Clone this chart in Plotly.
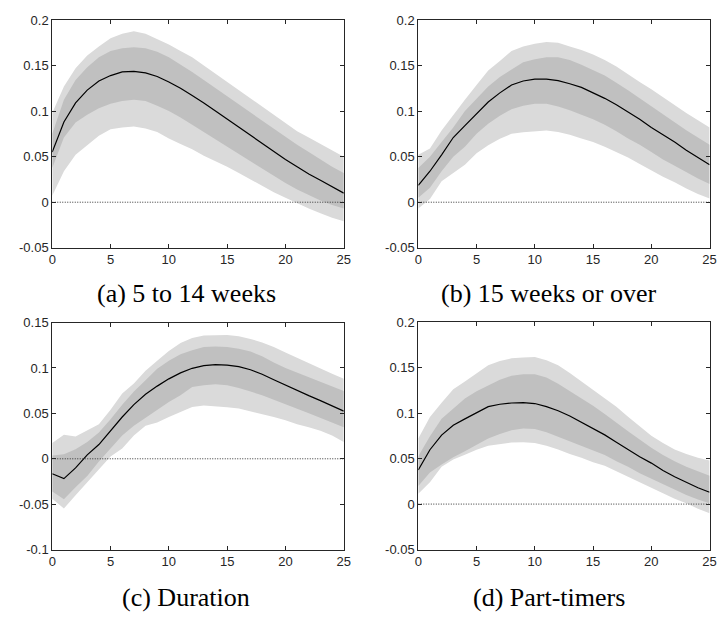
import plotly.graph_objects as go

# ---------------- data ----------------
horizon = list(range(26))

a_med = [0.055, 0.088, 0.109, 0.123, 0.133, 0.139, 0.143, 0.1435, 0.142, 0.138, 0.132, 0.125, 0.117, 0.109, 0.100, 0.091, 0.082, 0.073, 0.064, 0.056, 0.047, 0.039, 0.031, 0.024, 0.017, 0.010]
a_hi68 = [0.075, 0.1125, 0.134, 0.148, 0.159, 0.166, 0.169, 0.170, 0.169, 0.165, 0.159, 0.151, 0.143, 0.134, 0.125, 0.116, 0.107, 0.098, 0.089, 0.080, 0.071, 0.063, 0.055, 0.047, 0.039, 0.032]
a_lo68 = [0.0375, 0.071, 0.0875, 0.096, 0.103, 0.108, 0.111, 0.1125, 0.111, 0.106, 0.100, 0.093, 0.085, 0.077, 0.069, 0.061, 0.053, 0.045, 0.037, 0.029, 0.021, 0.014, 0.008, 0.002, -0.003, -0.007]
a_hi90 = [0.098, 0.127, 0.147, 0.161, 0.171, 0.180, 0.185, 0.1875, 0.185, 0.179, 0.173, 0.166, 0.159, 0.150, 0.141, 0.132, 0.123, 0.114, 0.105, 0.095, 0.086, 0.078, 0.071, 0.064, 0.057, 0.050]
a_lo90 = [0.007, 0.034, 0.052, 0.0625, 0.073, 0.080, 0.082, 0.083, 0.081, 0.077, 0.070, 0.064, 0.058, 0.051, 0.045, 0.039, 0.032, 0.025, 0.018, 0.011, 0.005, -0.001, -0.007, -0.012, -0.017, -0.021]

b_med = [0.0186, 0.034, 0.052, 0.071, 0.084, 0.097, 0.110, 0.120, 0.1286, 0.133, 0.135, 0.135, 0.1335, 0.130, 0.126, 0.120, 0.114, 0.107, 0.099, 0.091, 0.082, 0.074, 0.066, 0.057, 0.049, 0.041]
b_hi68 = [0.0375, 0.050, 0.066, 0.082, 0.100, 0.114, 0.127, 0.1375, 0.146, 0.1536, 0.157, 0.159, 0.159, 0.156, 0.151, 0.145, 0.139, 0.131, 0.123, 0.114, 0.105, 0.096, 0.087, 0.079, 0.071, 0.063]
b_lo68 = [0.005, 0.016, 0.034, 0.050, 0.061, 0.075, 0.086, 0.095, 0.102, 0.106, 0.108, 0.108, 0.105, 0.101, 0.096, 0.091, 0.085, 0.078, 0.070, 0.063, 0.055, 0.047, 0.040, 0.033, 0.026, 0.020]
b_hi90 = [0.052, 0.059, 0.0786, 0.096, 0.1125, 0.1286, 0.1446, 0.155, 0.166, 0.171, 0.174, 0.1757, 0.175, 0.171, 0.167, 0.162, 0.156, 0.149, 0.140, 0.132, 0.124, 0.115, 0.106, 0.098, 0.090, 0.082]
b_lo90 = [-0.007, 0.0036, 0.023, 0.032, 0.041, 0.0536, 0.0625, 0.0696, 0.075, 0.0768, 0.0775, 0.0786, 0.077, 0.074, 0.070, 0.066, 0.061, 0.055, 0.049, 0.042, 0.035, 0.028, 0.022, 0.015, 0.009, 0.004]

c_med = [-0.0164, -0.0218, -0.010, 0.0043, 0.0157, 0.031, 0.046, 0.0596, 0.071, 0.080, 0.088, 0.0946, 0.0996, 0.1025, 0.1036, 0.1032, 0.1014, 0.098, 0.093, 0.087, 0.081, 0.075, 0.0695, 0.064, 0.058, 0.0525]
c_hi68 = [0.0036, 0.005, 0.0104, 0.0186, 0.029, 0.0436, 0.0596, 0.074, 0.0864, 0.099, 0.108, 0.115, 0.1196, 0.123, 0.1236, 0.123, 0.121, 0.118, 0.113, 0.106, 0.100, 0.095, 0.090, 0.085, 0.080, 0.0746]
c_lo68 = [-0.036, -0.0446, -0.0314, -0.019, -0.003, 0.0114, 0.0257, 0.0364, 0.0454, 0.054, 0.0625, 0.070, 0.079, 0.081, 0.082, 0.081, 0.078, 0.074, 0.070, 0.065, 0.0596, 0.055, 0.050, 0.045, 0.040, 0.0346]
c_hi90 = [0.0175, 0.0264, 0.0246, 0.031, 0.038, 0.054, 0.072, 0.083, 0.097, 0.108, 0.1186, 0.1275, 0.133, 0.1357, 0.1364, 0.1364, 0.135, 0.132, 0.128, 0.123, 0.117, 0.111, 0.105, 0.099, 0.0935, 0.088]
c_lo90 = [-0.044, -0.0546, -0.040, -0.026, -0.0118, 0.0025, 0.0114, 0.0257, 0.0364, 0.040, 0.046, 0.0514, 0.057, 0.0586, 0.058, 0.0568, 0.0554, 0.0525, 0.0496, 0.046, 0.0425, 0.038, 0.0346, 0.031, 0.0257, 0.0186]

d_med = [0.0376, 0.0597, 0.0757, 0.0866, 0.0936, 0.1007, 0.107, 0.1096, 0.111, 0.1114, 0.1104, 0.107, 0.1025, 0.0968, 0.090, 0.083, 0.076, 0.068, 0.060, 0.052, 0.045, 0.037, 0.030, 0.024, 0.018, 0.013]
d_hi68 = [0.0525, 0.0746, 0.0936, 0.1043, 0.116, 0.124, 0.130, 0.1366, 0.141, 0.1425, 0.1425, 0.139, 0.132, 0.124, 0.116, 0.108, 0.099, 0.090, 0.080, 0.071, 0.062, 0.054, 0.047, 0.041, 0.036, 0.031]
d_lo68 = [0.020, 0.0346, 0.0436, 0.0514, 0.058, 0.065, 0.072, 0.077, 0.081, 0.083, 0.0825, 0.079, 0.074, 0.069, 0.064, 0.059, 0.054, 0.047, 0.041, 0.034, 0.028, 0.022, 0.016, 0.010, 0.005, 0.001]
d_hi90 = [0.072, 0.0955, 0.1114, 0.126, 0.1346, 0.1436, 0.1525, 0.157, 0.160, 0.161, 0.1614, 0.158, 0.1525, 0.144, 0.135, 0.126, 0.117, 0.107, 0.096, 0.085, 0.075, 0.067, 0.060, 0.055, 0.051, 0.048]
d_lo90 = [0.0114, 0.024, 0.041, 0.049, 0.0543, 0.0597, 0.064, 0.066, 0.0675, 0.068, 0.067, 0.064, 0.060, 0.055, 0.051, 0.046, 0.042, 0.036, 0.030, 0.024, 0.018, 0.012, 0.006, 0.001, -0.005, -0.010]

captions = ["(a) 5 to 14 weeks", "(b) 15 weeks or over", "(c) Duration", "(d) Part-timers"]

x_ticks = [0, 5, 10, 15, 20, 25]
x_ticktext = ["0", "5", "10", "15", "20", "25"]
y_ticks_ab = [-0.05, 0, 0.05, 0.1, 0.15, 0.2]
y_ticktext_ab = ["-0.05", "0", "0.05", "0.1", "0.15", "0.2"]
y_ticks_c = [-0.1, -0.05, 0, 0.05, 0.1, 0.15]
y_ticktext_c = ["-0.1", "-0.05", "0", "0.05", "0.1", "0.15"]
y_range_ab = [-0.05, 0.2]
y_range_c = [-0.1, 0.15]
x_range = [0, 25]

# ---------------- layout / styling ----------------
W, H = 723, 624
LIGHT = "#dadada"
DARK = "#c0c0c0"
AX = "#262626"
TICKFONT = dict(family="Liberation Sans, Arial, sans-serif", size=13, color=AX)
CAPFONT = dict(family="Liberation Serif, DejaVu Serif, serif", size=26, color="black")

panels = [
    dict(lo90=a_lo90, lo68=a_lo68, med=a_med, hi68=a_hi68, hi90=a_hi90,
         yt=y_ticks_ab, ytt=y_ticktext_ab, yr=y_range_ab, px=(49, 345), py=(13.3, 246.7), cap=captions[0], capx=185, capy=294),
    dict(lo90=b_lo90, lo68=b_lo68, med=b_med, hi68=b_hi68, hi90=b_hi90,
         yt=y_ticks_ab, ytt=y_ticktext_ab, yr=y_range_ab, px=(420.7, 716.5), py=(13.3, 246.7), cap=captions[1], capx=553, capy=294),
    dict(lo90=c_lo90, lo68=c_lo68, med=c_med, hi68=c_hi68, hi90=c_hi90,
         yt=y_ticks_c, ytt=y_ticktext_c, yr=y_range_c, px=(49, 345), py=(323.3, 556), cap=captions[2], capx=185, capy=605),
    dict(lo90=d_lo90, lo68=d_lo68, med=d_med, hi68=d_hi68, hi90=d_hi90,
         yt=y_ticks_ab, ytt=y_ticktext_ab, yr=y_range_ab, px=(420.7, 716.5), py=(322.7, 556), cap=captions[3], capx=553, capy=605),
]

fig = go.Figure()
layout = dict(
    width=W, height=H, margin=dict(l=0, r=0, t=0, b=0),
    paper_bgcolor="white", plot_bgcolor="white", showlegend=False,
    font=dict(family="Liberation Sans, Arial, sans-serif", size=13, color=AX),
)
annotations = []
shapes = []

for i, p in enumerate(panels, start=1):
    xa = "x" if i == 1 else f"x{i}"
    ya = "y" if i == 1 else f"y{i}"
    # light band
    fig.add_trace(go.Scatter(x=horizon, y=p["lo90"], mode="lines", line=dict(width=0, color=LIGHT),
                             xaxis=xa, yaxis=ya, hoverinfo="skip"))
    fig.add_trace(go.Scatter(x=horizon, y=p["hi90"], mode="lines", line=dict(width=0, color=LIGHT),
                             fill="tonexty", fillcolor=LIGHT, xaxis=xa, yaxis=ya, hoverinfo="skip"))
    # dark band
    fig.add_trace(go.Scatter(x=horizon, y=p["lo68"], mode="lines", line=dict(width=0, color=DARK),
                             xaxis=xa, yaxis=ya, hoverinfo="skip"))
    fig.add_trace(go.Scatter(x=horizon, y=p["hi68"], mode="lines", line=dict(width=0, color=DARK),
                             fill="tonexty", fillcolor=DARK, xaxis=xa, yaxis=ya, hoverinfo="skip"))
    # zero reference line
    shapes.append(dict(type="line", xref=xa, yref=ya, x0=x_range[0], x1=x_range[1], y0=0, y1=0,
                       line=dict(color="#333333", width=1, dash="1px,1.5px"), layer="above"))
    # median
    fig.add_trace(go.Scatter(x=horizon, y=p["med"], mode="lines", line=dict(width=1.2, color="black"),
                             xaxis=xa, yaxis=ya))

    xd = [p["px"][0] / W, p["px"][1] / W]
    yd = [1 - p["py"][1] / H, 1 - p["py"][0] / H]
    axis_common = dict(showline=True, mirror="ticks", linecolor=AX, linewidth=1,
                       ticks="inside", ticklen=4, tickcolor=AX, tickwidth=1,
                       showgrid=False, zeroline=False, tickfont=TICKFONT)
    layout["xaxis" if i == 1 else f"xaxis{i}"] = dict(
        domain=xd, range=x_range, tickvals=x_ticks, ticktext=x_ticktext,
        anchor=ya, **axis_common)
    layout["yaxis" if i == 1 else f"yaxis{i}"] = dict(
        domain=yd, range=p["yr"], tickvals=p["yt"], ticktext=p["ytt"],
        anchor=xa, **axis_common)
    annotations.append(dict(text=p["cap"], xref="paper", yref="paper",
                            x=p["capx"] / W, y=1 - p["capy"] / H, xanchor="center", yanchor="middle",
                            showarrow=False, font=CAPFONT))

layout["annotations"] = annotations
layout["shapes"] = shapes
fig.update_layout(**layout)
fig.write_html("out.html")
